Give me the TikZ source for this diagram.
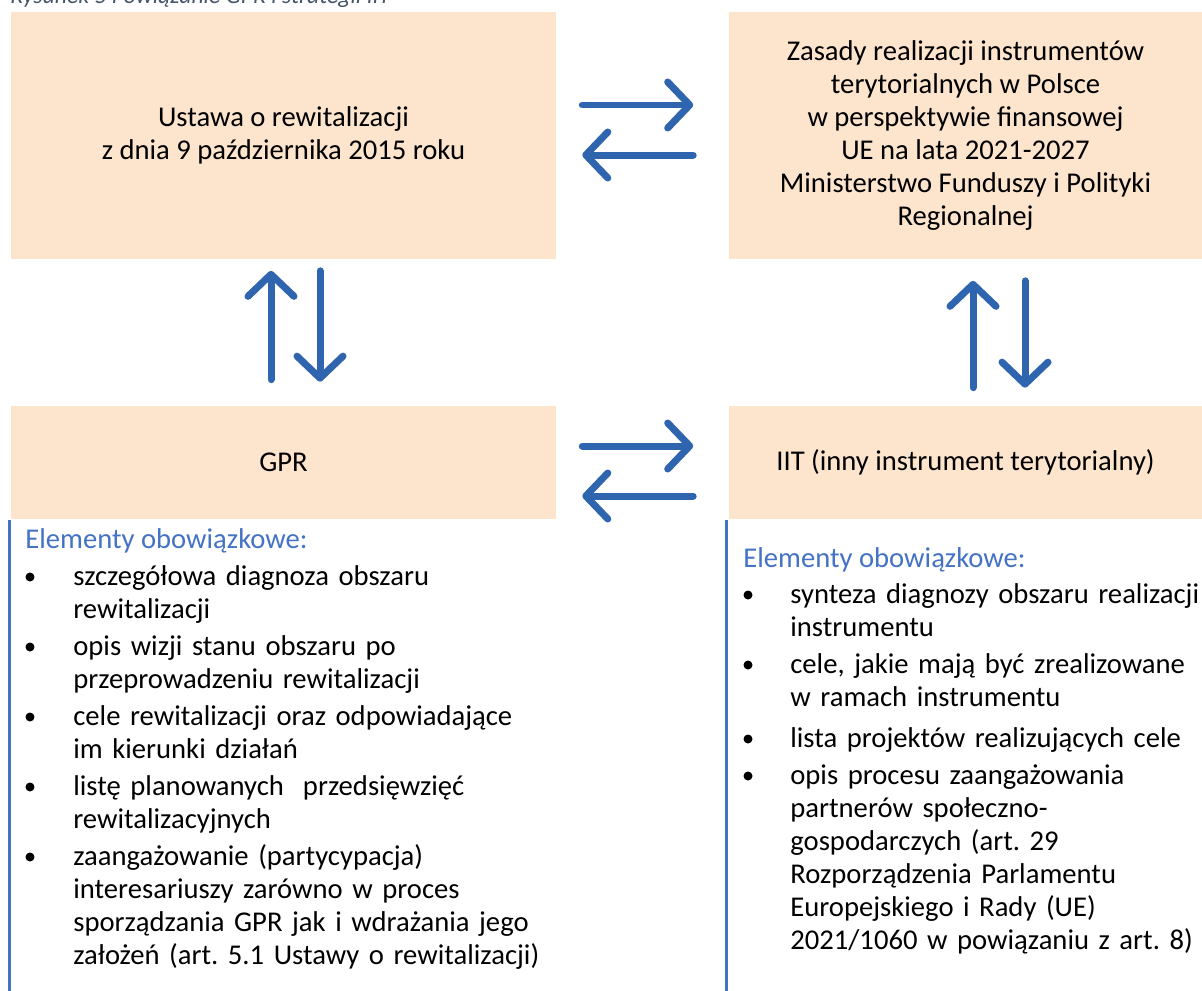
\documentclass[tikz,border=0pt]{standalone}
\usepackage{fontspec}
\setmainfont{Carlito}
\frenchspacing
\usetikzlibrary{arrows.meta,calc,positioning}
\definecolor{peach}{RGB}{252,228,205}
\definecolor{arrowblue}{RGB}{47,100,175}
\definecolor{lineblue}{RGB}{68,114,196}
\definecolor{capgray}{RGB}{68,84,106}

\begin{document}
\begin{tikzpicture}[x=0.02cm,y=-0.02cm,
    box/.style={fill=peach, inner sep=0pt, align=center,
      font=\fontsize{16.3}{18.8}\selectfont},
    arr/.style={arrowblue, line width=0.14cm, line cap=round,
      -{Straight Barb[length=0.44cm,width=0.92cm,round]}},
    head/.style={lineblue, anchor=base west, inner sep=0pt,
      font=\fontsize{16.3}{18.8}\selectfont},
    item/.style={anchor=base west, inner sep=0pt, text width=9.8cm, align=left,
      font=\fontsize{16.3}{18.8}\selectfont},
    dot/.style={circle, fill=black, inner sep=0pt, minimum size=0.18cm}]
    \useasboundingbox (0,0) rectangle (1202,990);
    \clip (0,0) rectangle (1202,990);
    % caption, cut off at the top
    \node[anchor=base west, inner sep=0pt, capgray,
      font=\itshape\fontsize{13.5}{16}\selectfont] (caption) at (10,4)
      {Rysunek 5 Powiązanie GPR i strategii IIT};
    % boxes
    \node[box, minimum width=10.9cm, minimum height=4.94cm] (ustawa) at (283.5,135.5)
      {Ustawa o rewitalizacji\\z dnia 9 października 2015 roku};
    \node[box, minimum width=9.46cm, minimum height=4.94cm] (zasady) at (965.5,135.5)
      {Zasady realizacji instrumentów\\terytorialnych w Polsce\\w perspektywie finansowej\\UE na lata 2021-2027\\Ministerstwo Funduszy i Polityki\\Regionalnej};
    \node[box, minimum width=10.9cm, minimum height=2.26cm] (gpr) at (283.5,462.5) {GPR};
    \node[box, minimum width=9.46cm, minimum height=2.26cm] (iit) at (965.5,462.5)
      {IIT (inny instrument terytorialny)};
    % arrows
    \draw[arr] ($(ustawa.east)+(26,-30.5)$) -- ($(zasady.west)+(-35.5,-30.5)$);
    \draw[arr] ($(zasady.west)+(-35.5,19.5)$) -- ($(ustawa.east)+(26,19.5)$);
    \draw[arr] ($(gpr.east)+(26,-16.5)$) -- ($(iit.west)+(-35.5,-16.5)$);
    \draw[arr] ($(iit.west)+(-35.5,33.5)$) -- ($(gpr.east)+(26,33.5)$);
    \draw[arr] ($(gpr.north)+(-12.5,-26)$) -- ($(ustawa.south)+(-12.5,11.5)$);
    \draw[arr] ($(ustawa.south)+(36.5,11.5)$) -- ($(gpr.north)+(36.5,-24)$);
    \draw[arr] ($(iit.north)+(7.5,-18)$) -- ($(zasady.south)+(7.5,21.5)$);
    \draw[arr] ($(zasady.south)+(59.5,21.5)$) -- ($(iit.north)+(59.5,-18)$);
    % left list
    \draw[lineblue, line width=0.055cm] ($(gpr.south west)+(-1,1)$) -- ++(0,480);
    \node[head] (lhead) at (25,548) {Elementy obowiązkowe:};
    \node[dot] (ld1) at (30,577) {};
    \node[item] (li1) at (73,585) {szczegółowa diagnoza obszaru\\rewitalizacji};
    \node[dot] (ld2) at (30,647) {};
    \node[item] (li2) at (73,655) {opis wizji stanu obszaru po\\przeprowadzeniu rewitalizacji};
    \node[dot] (ld3) at (30,717) {};
    \node[item] (li3) at (73,725) {cele rewitalizacji oraz odpowiadające\\im kierunki działań};
    \node[dot] (ld4) at (30,787) {};
    \node[item] (li4) at (73,795) {listę planowanych\ \ przedsięwzięć\\rewitalizacyjnych};
    \node[dot] (ld5) at (30,857) {};
    \node[item] (li5) at (73,865) {zaangażowanie (partycypacja)\\interesariuszy zarówno w proces\\sporządzania GPR jak i wdrażania jego\\założeń (art. 5.1 Ustawy o rewitalizacji)};
    % right list
    \draw[lineblue, line width=0.055cm] ($(iit.south west)+(-2,1)$) -- ++(0,480);
    \node[head] (rhead) at (743,567) {Elementy obowiązkowe:};
    \node[dot] (rd1) at (748,595) {};
    \node[item] (ri1) at (790,603) {synteza diagnozy obszaru realizacji\\instrumentu};
    \node[dot] (rd2) at (748,665) {};
    \node[item] (ri2) at (790,673) {cele, jakie mają być zrealizowane\\w ramach instrumentu};
    \node[dot] (rd3) at (748,739) {};
    \node[item] (ri3) at (790,747) {lista projektów realizujących cele};
    \node[dot] (rd4) at (748,776) {};
    \node[item] (ri4) at (790,784) {opis procesu zaangażowania\\partnerów społeczno-\\gospodarczych (art. 29\\Rozporządzenia Parlamentu\\Europejskiego i Rady (UE)\\2021/1060 w powiązaniu z art. 8)};
\end{tikzpicture}
\end{document}
